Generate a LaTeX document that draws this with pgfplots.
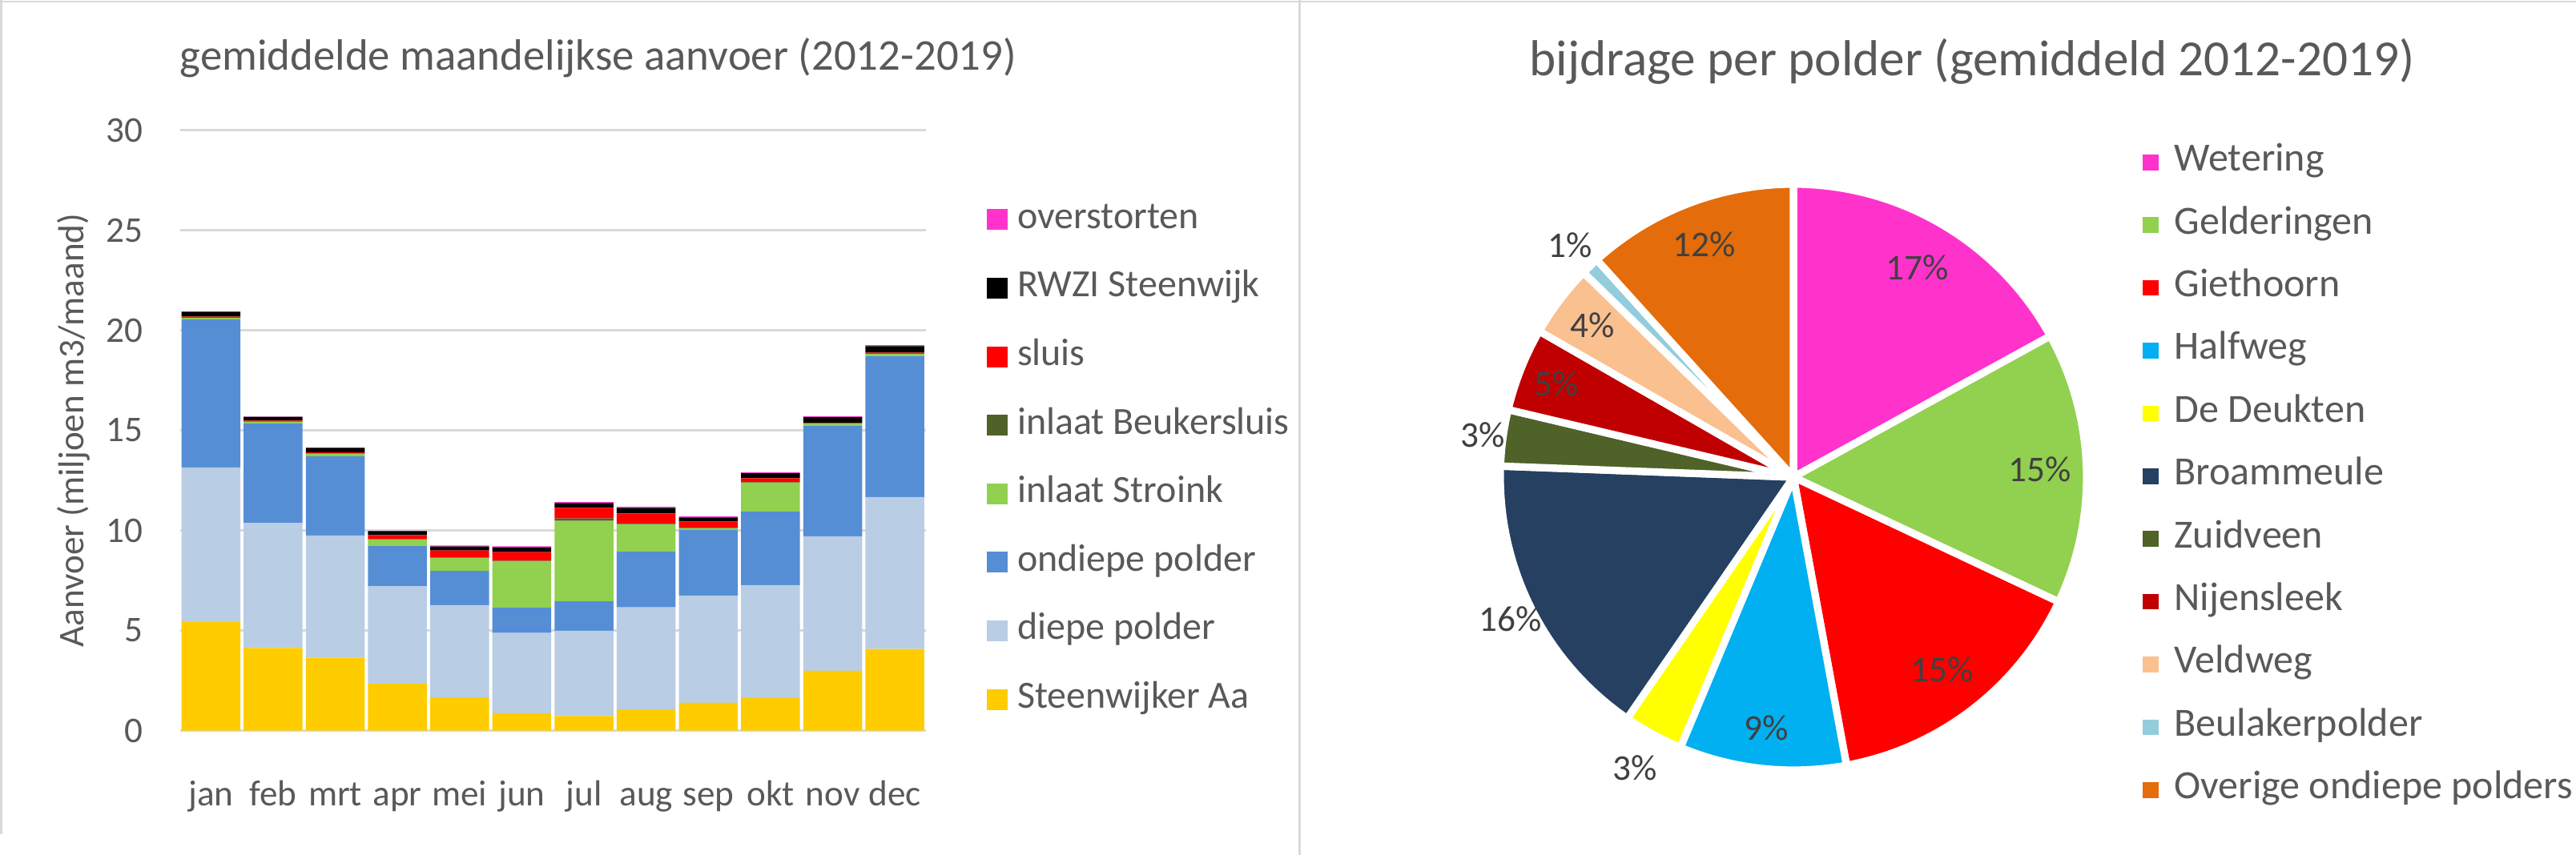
\documentclass[border=0pt]{standalone}
\usepackage{fontspec}
\setmainfont{Carlito}
\usepackage{pgfplots}
\usepackage{pgfplotstable}
\pgfplotsset{compat=1.18}

\definecolor{txt}{HTML}{595959}
\definecolor{lbl}{HTML}{404040}
\definecolor{grd}{HTML}{D9D9D9}
% bar chart series
\definecolor{cOver}{HTML}{FF33CC}
\definecolor{cSluis}{HTML}{FF0000}
\definecolor{cBeuk}{HTML}{4F6228}
\definecolor{cStro}{HTML}{92D050}
\definecolor{cOnd}{HTML}{558ED5}
\definecolor{cDiep}{HTML}{B9CDE5}
\definecolor{cAa}{HTML}{FFCC00}
% pie slices
\definecolor{cWet}{HTML}{FF33CC}
\definecolor{cGel}{HTML}{92D050}
\definecolor{cGie}{HTML}{FF0000}
\definecolor{cHal}{HTML}{00B0F0}
\definecolor{cDeu}{HTML}{FFFF00}
\definecolor{cBro}{HTML}{254061}
\definecolor{cZui}{HTML}{4F6228}
\definecolor{cNij}{HTML}{C00000}
\definecolor{cVel}{HTML}{FAC090}
\definecolor{cBeu}{HTML}{93CDDD}
\definecolor{cOve}{HTML}{E46C0A}

% monthly supply, million m3 per month
\pgfplotstableread{
m  aa   diep ondiep stroink beuker sluis rwzi over
0  5.41 7.73 7.39   0.08    0.05   0.02  0.24 0.01
1  4.13 6.23 4.97   0.08    0.02   0.05  0.19 0.01
2  3.64 6.10 3.96   0.12    0.02   0.05  0.23 0.01
3  2.34 4.87 2.02   0.31    0.02   0.20  0.20 0.01
4  1.66 4.60 1.71   0.65    0.02   0.35  0.20 0.05
5  0.87 4.00 1.26   2.33    0.02   0.43  0.24 0.05
6  0.73 4.25 1.47   4.02    0.12   0.53  0.24 0.05
7  1.06 5.09 2.78   1.37    0.02   0.52  0.28 0.05
8  1.39 5.35 3.28   0.08    0.02   0.32  0.20 0.05
9  1.63 5.63 3.67   1.45    0.02   0.20  0.25 0.05
10 2.99 6.71 5.53   0.10    0.02   0.02  0.28 0.05
11 4.08 7.58 7.05   0.10    0.05   0.02  0.32 0.05
}\maand

% share per polder (percent), label, label radius, colour
\pgfplotstableread[col sep=comma]{
name,pct,lab,lr,col
Wetering,17.0,17,0.83,cWet
Gelderingen,15.0,15,0.84,cGel
Giethoorn,15.1,15,0.83,cGie
Halfweg,9.2,9,0.86,cHal
De Deukten,3.3,3,1.13,cDeu
Broammeule,16.0,16,1.08,cBro
Zuidveen,3.1,3,1.07,cZui
Nijensleek,4.6,5,0.87,cNij
Veldweg,4.0,4,0.86,cVel
Beulakerpolder,1.0,1,1.10,cBeu
Overige ondiepe polders,11.7,12,0.85,cOve
}\polder

\begin{document}
\begin{tikzpicture}
\fill[white] (0,0) rectangle (804pt,-267pt);
\useasboundingbox (0,0) rectangle (804pt,-267pt);
\draw[grd, line width=0.6pt] (0,-0.5pt) -- (804pt,-0.5pt);
\draw[grd, line width=0.6pt] (0.4pt,0) -- (0.4pt,-260.6pt);
\draw[grd, line width=0.7pt] (405.7pt,0) -- (405.7pt,-267pt);

\node[anchor=base west, inner sep=0pt, text=txt, font=\fontsize{13.7}{16}\selectfont]
  at (56pt,-21.9pt) {gemiddelde maandelijkse aanvoer (2012-2019)};
\node[anchor=base, inner sep=0pt, text=txt, font=\fontsize{15.8}{18}\selectfont]
  at (615.5pt,-23.75pt) {bijdrage per polder (gemiddeld 2012-2019)};

% ---- stacked bars
\begin{axis}[
    at={(56.125pt,-228.125pt)}, anchor=south west,
    scale only axis, width=232.875pt, height=187.5pt,
    ybar stacked, bar width=18.4pt,
    xmin=-0.5, xmax=11.5, ymin=0, ymax=30,
    xtick={0,...,11},
    xticklabels={jan,feb,mrt,apr,mei,jun,jul,aug,sep,okt,nov,dec},
    ytick={0,5,...,30},
    ymajorgrids, grid style={grd, line width=0.6pt},
    axis line style={draw=none}, major tick length=0pt,
    /pgf/number format/assume math mode=true,
    tick label style={font=\fontsize{11.3}{13}\selectfont, text=txt},
    yticklabel style={anchor=east, inner sep=0pt, xshift=-11.3pt},
    xticklabel style={anchor=base, inner sep=0pt, yshift=-23.4pt},
    ylabel={Aanvoer (miljoen m3/maand)},
    ylabel style={at={(axis description cs:-0.1422,0.5)}, anchor=center,
        font=\fontsize{11.3}{13}\selectfont, text=txt},
    reverse legend, legend cell align=left,
    legend style={at={(1.0816,0.879)}, anchor=north west, draw=none, fill=none,
        inner sep=0pt, outer sep=0pt, row sep=10.8pt, column sep=3pt,
        font=\fontsize{12}{14}\selectfont, text=txt,
        nodes={inner sep=0pt, text height=8pt, text depth=2.6pt}},
    every axis plot post/.append style={draw=none,
        legend image code/.code={\fill[##1] (0pt,-3.25pt) rectangle (6.5pt,3.25pt);}},
]
\addplot[fill=cAa]    table[x=m, y=aa]      {\maand}; \addlegendentry{Steenwijker Aa}
\addplot[fill=cDiep]  table[x=m, y=diep]    {\maand}; \addlegendentry{diepe polder}
\addplot[fill=cOnd]   table[x=m, y=ondiep]  {\maand}; \addlegendentry{ondiepe polder}
\addplot[fill=cStro]  table[x=m, y=stroink] {\maand}; \addlegendentry{inlaat Stroink}
\addplot[fill=cBeuk]  table[x=m, y=beuker]  {\maand}; \addlegendentry{inlaat Beukersluis}
\addplot[fill=cSluis] table[x=m, y=sluis]   {\maand}; \addlegendentry{sluis}
\addplot[fill=black]  table[x=m, y=rwzi]    {\maand}; \addlegendentry{RWZI Steenwijk}
\addplot[fill=cOver]  table[x=m, y=over]    {\maand}; \addlegendentry{overstorten}
\end{axis}

% ---- pie
\begin{axis}[
    at={(559.75pt,-149pt)}, anchor=center,
    scale only axis, width=183pt, height=183pt,
    xmin=-1, xmax=1, ymin=-1, ymax=1,
    hide axis, clip=false,
    legend cell align=left,
    legend image code/.code={\fill[#1] (0pt,-2.25pt) rectangle (4.5pt,2.25pt);},
    legend style={at={(1.0956,1.066)}, anchor=north west, draw=none, fill=none,
        inner sep=0pt, outer sep=0pt, row sep=9pt, column sep=5pt,
        font=\fontsize{12.5}{14}\selectfont, text=txt,
        nodes={inner sep=0pt, text height=8pt, text depth=2.6pt}},
]
\def\cum{0}
\pgfplotsforeachungrouped \i in {0,...,10}{%
  \pgfplotstablegetelem{\i}{pct}\of\polder \let\p\pgfplotsretval
  \pgfplotstablegetelem{\i}{col}\of\polder \let\c\pgfplotsretval
  \pgfplotstablegetelem{\i}{name}\of\polder \let\n\pgfplotsretval
  \pgfmathsetmacro\aA{90-3.6*\cum}
  \pgfmathsetmacro\aB{90-3.6*(\cum+\p)}
  \pgfmathsetmacro\sx{cos(\aA)}
  \pgfmathsetmacro\sy{sin(\aA)}
  \edef\tmp{%
    \noexpand\filldraw[fill=\c, draw=white, line width=2.3pt, line join=round]
      (axis cs:0,0) -- (axis cs:\sx,\sy) arc[start angle=\aA, end angle=\aB, radius=91.5pt] -- cycle;
    \noexpand\addlegendimage{\c}
    \noexpand\addlegendentry{\n}
  }\tmp
  \pgfmathsetmacro\cum{\cum+\p}
}
\def\cum{0}
\pgfplotsforeachungrouped \i in {0,...,10}{%
  \pgfplotstablegetelem{\i}{pct}\of\polder \let\p\pgfplotsretval
  \pgfplotstablegetelem{\i}{lab}\of\polder \let\l\pgfplotsretval
  \pgfplotstablegetelem{\i}{lr}\of\polder  \let\r\pgfplotsretval
  \pgfmathsetmacro\aM{90-3.6*(\cum+\p/2)}
  \pgfmathsetmacro\lx{\r*cos(\aM)}
  \pgfmathsetmacro\ly{\r*sin(\aM)}
  \edef\tmp{%
    \noexpand\node[text=lbl, font=\noexpand\fontsize{11.3}{13}\noexpand\selectfont, inner sep=0pt]
      at (axis cs:\lx,\ly) {\l\noexpand\%};
  }\tmp
  \pgfmathsetmacro\cum{\cum+\p}
}
\end{axis}
\end{tikzpicture}
\end{document}
